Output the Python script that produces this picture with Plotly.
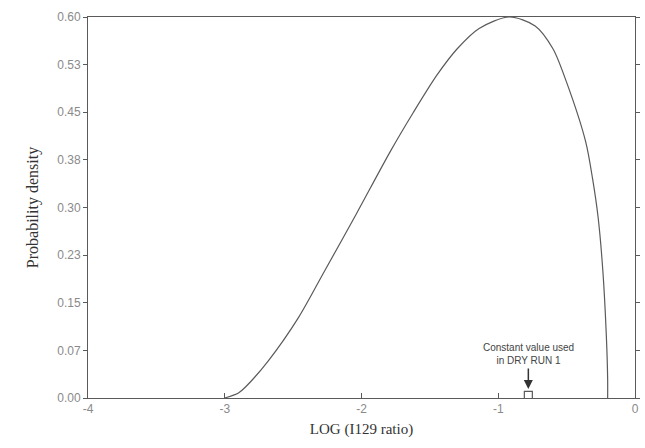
import plotly.graph_objects as go

# Curve
log_ratio = [-3.00, -2.90, -2.85, -2.68, -2.46, -2.27, -2.04, -1.79, -1.62, -1.45,
             -1.30, -1.14, -0.92, -0.73, -0.60, -0.50, -0.36, -0.31, -0.27, -0.235,
             -0.21, -0.20, -0.20]
density = [0.000, 0.008, 0.017, 0.059, 0.127, 0.200, 0.289, 0.388, 0.450, 0.508,
           0.550, 0.582, 0.600, 0.586, 0.550, 0.497, 0.403, 0.345, 0.285, 0.200,
           0.100, 0.030, 0.000]

# Constant value marker
dry_run_x = [-0.78]
dry_run_y = [0.004]

y_tick_vals = [0.0, 0.075, 0.15, 0.225, 0.30, 0.375, 0.45, 0.525, 0.60]
y_tick_text = ["0.00", "0.07", "0.15", "0.23", "0.30", "0.38", "0.45", "0.53", "0.60"]
x_tick_vals = [-4, -3, -2, -1, 0]
x_tick_text = ["-4", "-3", "-2", "-1", "0"]

line_col = "#5a5a5a"
tick_col = "#8a8a8a"

fig = go.Figure()
fig.add_trace(go.Scatter(x=log_ratio, y=density, mode="lines",
                         line=dict(color=line_col, width=1.2, shape="spline", smoothing=0.8),
                         showlegend=False, hoverinfo="skip"))
fig.add_trace(go.Scatter(x=dry_run_x, y=dry_run_y, mode="markers",
                         marker=dict(symbol="square-open", size=8, color=line_col,
                                     line=dict(width=1.2)),
                         showlegend=False, hoverinfo="skip"))

fig.add_annotation(x=dry_run_x[0], y=0.014, ax=0, ay=-22, xref="x", yref="y",
                   axref="pixel", ayref="pixel", showarrow=True, arrowhead=2,
                   arrowsize=1.2, arrowwidth=1.5, arrowcolor="#333", text="")
fig.add_annotation(x=dry_run_x[0], y=0.047, xref="x", yref="y", yanchor="bottom",
                   showarrow=False, align="center",
                   text="Constant value used<br>in DRY RUN 1",
                   font=dict(family="Liberation Sans, Arial", size=10, color="#444"))

fig.update_layout(
    width=645, height=448,
    margin=dict(l=88, r=5, t=17, b=50),
    paper_bgcolor="white", plot_bgcolor="white",
    xaxis=dict(range=[-4, 0], tickvals=x_tick_vals, ticktext=x_tick_text,
               showgrid=False, zeroline=False, showline=True, linecolor=line_col,
               linewidth=1, mirror=True, ticks="inside", ticklen=5, tickcolor=line_col,
               tickfont=dict(family="Liberation Sans, Arial", size=12, color=tick_col),
               title=dict(text="LOG (I129 ratio)", standoff=8,
                          font=dict(family="Liberation Serif, Times New Roman", size=15,
                                    color="#333"))),
    yaxis=dict(range=[0, 0.6], tickvals=y_tick_vals, ticktext=y_tick_text,
               showgrid=False, zeroline=False, showline=True, linecolor=line_col,
               linewidth=1, mirror="ticks", ticks="outside", ticklen=4, tickcolor=line_col,
               tickfont=dict(family="Liberation Sans, Arial", size=12, color=tick_col),
               title=dict(text="Probability density", standoff=14,
                          font=dict(family="Liberation Serif, Times New Roman", size=16,
                                    color="#333"))),
)

fig.write_html("out.html", config={"displayModeBar": False},
               post_script="document.body.style.margin='0';")
